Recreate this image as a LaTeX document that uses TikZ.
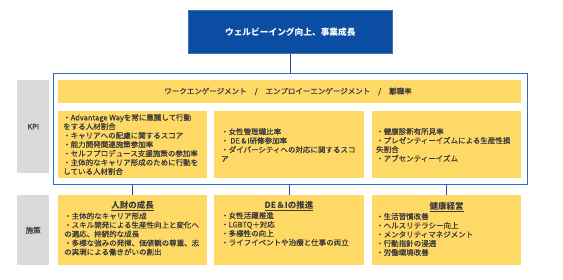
\documentclass[tikz,border=0pt]{standalone}
\usepackage{fontspec}
\newfontfamily\jp{Noto Sans CJK JP}
\newfontfamily\jpm{Noto Sans CJK JP}[FakeBold=0.5]
\definecolor{topblue}{HTML}{0B4DA2}
\definecolor{frameblue}{HTML}{2F6DB5}
\definecolor{linkblue}{HTML}{1F4E9C}
\definecolor{kyellow}{HTML}{FFD966}
\definecolor{kgray}{HTML}{D9D9D9}
\definecolor{ktext}{HTML}{3A3A3A}
\tikzset{
  ybox/.style={fill=kyellow, draw=none, inner sep=0pt, anchor=north west},
  gbox/.style={fill=kgray, draw=none, inner sep=0pt, anchor=north west, font=\jpm\fontsize{7.5}{9}\selectfont, text=ktext},
  listtext/.style={inner sep=0pt, anchor=west, align=left, text=ktext, font=\jpm\fontsize{7.5}{9}\selectfont},
  titletext/.style={inner sep=0pt, text=ktext, font=\jp\bfseries\fontsize{8.5}{10}\selectfont},
  link/.style={draw=linkblue, line width=0.9pt}
}
\begin{document}
\begin{tikzpicture}[x=1pt,y=-1pt]
\useasboundingbox[fill=white] (0,0) rectangle (563,279);

% top goal box
\node[fill=topblue, draw=topblue!80!white, line width=0.6pt, inner sep=0pt, anchor=north west,
      minimum width=204pt, minimum height=43pt, text=white,
      font=\jp\bfseries\fontsize{8.7}{10}\selectfont] (goal) at (188,10) {ウェルビーイング向上、事業成長};

% outer KPI frame
\fill[black!15] (54,74) rectangle (528,185);
\node[draw=frameblue, fill=white, line width=0.8pt, inner sep=0pt, anchor=north west,
      minimum width=474pt, minimum height=111pt] (frame) at (53,73) {};

% gray labels
\node[gbox, minimum width=32pt, minimum height=93pt] (kpilab) at (17,80) {KPI};
\node[gbox, minimum width=32pt, minimum height=70pt] (sakulab) at (17,195) {施策};

% top bar
\node[ybox, minimum width=463pt, minimum height=23pt] (bar) at (58,80) {};
\node[inner sep=0pt, text=ktext, font=\jpm\fontsize{7.5}{9}\selectfont] (bart) at (288,91.5)
  {ワークエンゲージメント\hspace{8pt}/\hspace{8pt}エンプロイーエンゲージメント\hspace{8pt}/\hspace{8pt}離職率};

% KPI boxes
\node[ybox, minimum width=149pt, minimum height=67pt] (kA) at (58,111) {};
\node[ybox, minimum width=150pt, minimum height=67pt] (kB) at (214,111) {};
\node[ybox, minimum width=149pt, minimum height=67pt] (kC) at (372,111) {};

\node[listtext] (kAt) at (63,144.5) {・Advantage Wayを常に意識して行動\\をする人材割合\\・キャリアへの配慮に関するスコア\\・能力開発関連施策参加率\\・セルフプロデュース支援施策の参加率\\・主体的なキャリア形成のために行動を\\している人材割合};
\node[listtext] (kBt) at (221,145) {・女性管理職比率\\・ DE＆I研修参加率\\・ダイバーシティへの対応に関するスコ\\ア};
\node[listtext] (kCt) at (376,145) {・健康診断有所見率\\・プレゼンティーイズムによる生産性損\\失割合\\・アブセンティーイズム};

% measure boxes
\node[ybox, minimum width=149pt, minimum height=70pt] (sA) at (58,195) {};
\node[ybox, minimum width=150pt, minimum height=70pt] (sB) at (214,195) {};
\node[ybox, minimum width=149pt, minimum height=70pt] (sC) at (372,195) {};

\node[titletext] (sAh) at (132.5,206) {\underline{人財の成長}};
\node[titletext] (sBh) at (289,206) {\underline{DE＆Iの推進}};
\node[titletext] (sCh) at (446.5,207) {\underline{健康経営}};

\node[listtext] (sAt) at (64,234) {・主体的なキャリア形成\\・スキル開発による生産性向上と変化へ\\の適応、持続的な成長\\・多様な強みの発揮、価値観の尊重、志\\の実現による働きがいの創出};
\node[listtext] (sBt) at (221,229) {・女性活躍推進\\・LGBTQ＋対応\\・多様性の向上\\・ライフイベントや治療と仕事の両立};
\node[listtext] (sCt) at (376,234.5) {・生活習慣改善\\・ヘルスリテラシー向上\\・メンタリティマネジメント\\・行動指針の浸透\\・労働環境改善};

% connectors
\draw[link] (goal.south) -- (goal.south |- frame.north);
\draw[link] (sA.north |- frame.south) -- (sA.north);
\draw[link] (sB.north |- frame.south) -- (sB.north);
\draw[link] (sC.north |- frame.south) -- (sC.north);
\end{tikzpicture}
\end{document}
